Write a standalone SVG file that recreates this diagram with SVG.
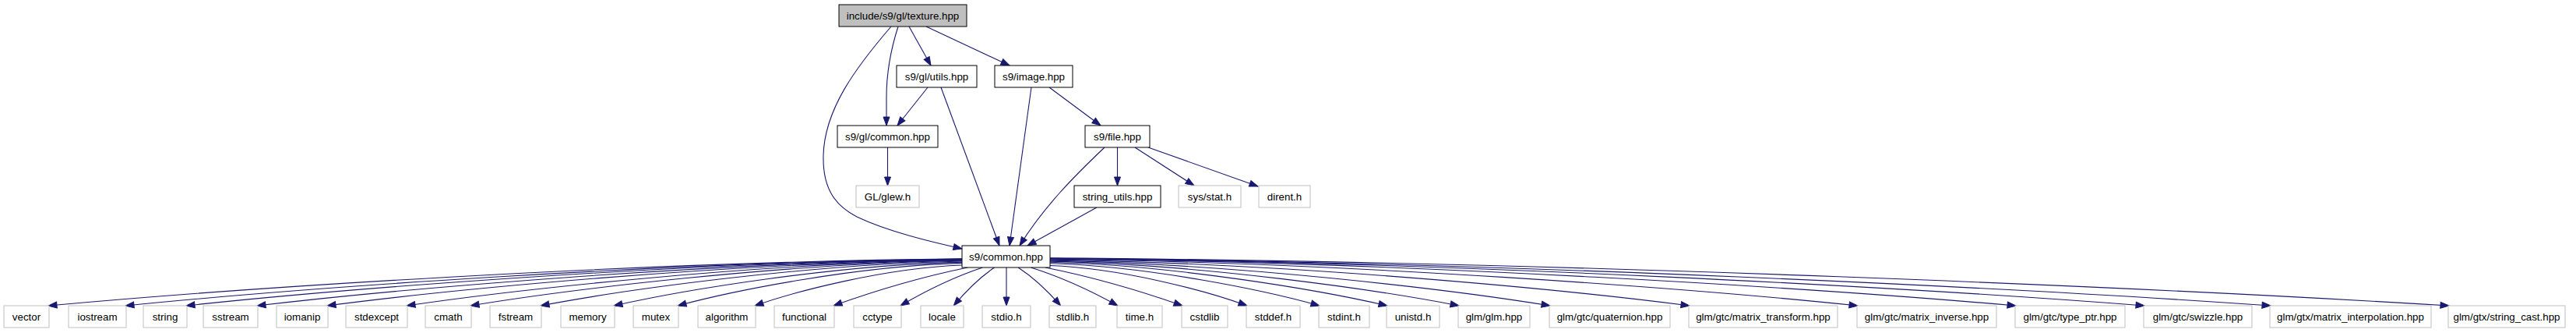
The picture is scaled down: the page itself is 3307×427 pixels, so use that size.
<svg xmlns="http://www.w3.org/2000/svg" width="3307" height="427" viewBox="0 0 3307 427">
<style>
text{font-family:"Liberation Sans",Arial,Helvetica,sans-serif;font-size:13.33px;text-anchor:middle;fill:#000}
.doc rect{fill:#fff;stroke:#000;stroke-width:1}
.root rect{fill:#bfbfbf;stroke:#000;stroke-width:1}
.ext rect{fill:#fff;stroke:#bfbfbf;stroke-width:1}
#edges path{fill:none;stroke:#191970;stroke-width:1.1;marker-end:url(#arr)}
</style>
<defs>
<marker id="arr" markerUnits="userSpaceOnUse" markerWidth="13" markerHeight="10" refX="11" refY="4" orient="auto" overflow="visible">
<path d="M0,0L11,4L0,8z" fill="#191970" stroke="#191970" stroke-width="1"/>
</marker>
</defs>
<rect width="3307" height="427" fill="#fff"/>
<g id="edges">
<path d="M1144,34 C1100,85 1058,140 1057,200 C1056,245 1075,265 1100,278 C1140,297 1195,310 1235,319"/>
<path d="M1153,34 C1144,62 1138,95 1138,125 L1138,161"/>
<path d="M1167,34 L1195,84"/>
<path d="M1189,34 L1296,84"/>
<path d="M1191,112 L1152,161"/>
<path d="M1208,112 L1283,315"/>
<path d="M1324,112 L1296,315"/>
<path d="M1347,112 L1413,161"/>
<path d="M1139.5,189 L1139.5,238"/>
<path d="M1418,189 C1380,225 1340,265 1309,315"/>
<path d="M1434.5,189 L1434.5,238"/>
<path d="M1457,189 L1533,238"/>
<path d="M1474,189 L1615,239"/>
<path d="M1408,266 L1319,315"/>
<path d="M1235,331.9 C801,336.1 296.6,370.4 62,392"/>
<path d="M1235,332.1 C837.6,336.3 375.8,370.4 161,392"/>
<path d="M1235,332.4 C866.5,336.6 438.2,370.5 239,392"/>
<path d="M1235,332.7 C900.2,336.9 511,370.7 330,392"/>
<path d="M1235,333.1 C933.4,337.2 583,370.8 420,392"/>
<path d="M1235,333.6 C971.2,337.7 664.6,371 522,392"/>
<path d="M1235,334.2 C1001.5,338.2 730.2,371.2 604,392"/>
<path d="M1235,335 C1034.8,339 802.2,371.5 694,392"/>
<path d="M1235,336.1 C1069.6,340 877.4,371.9 788,392"/>
<path d="M1235,337.4 C1100,341.2 943,372.3 870,392"/>
<path d="M1235,340 C1136.6,343.6 1022.2,373.3 969,392"/>
<path d="M1242.3,343 C1182,355.3 1121.7,373.4 1070,392"/>
<path d="M1261.4,343 C1224.5,355.3 1187.6,373.4 1156,392"/>
<path d="M1276.6,343 C1258.3,355.3 1240,373.4 1224.3,392"/>
<path d="M1292,343 L1292,392"/>
<path d="M1307.1,343 C1326.2,355.3 1345.3,373.4 1361.6,392"/>
<path d="M1323.4,343 C1362.5,355.3 1401.5,373.4 1435,392"/>
<path d="M1341.8,343 C1403.5,355.3 1465.1,373.4 1518,392"/>
<path d="M1348,340.5 C1441.6,344.1 1550.4,373.5 1601,392"/>
<path d="M1348,337.8 C1476,341.6 1624.8,372.5 1694,392"/>
<path d="M1348,336.3 C1508.2,340.2 1694.4,372 1781,392"/>
<path d="M1348,335.1 C1542.3,339.1 1768,371.5 1873,392"/>
<path d="M1348,334.1 C1585.5,338.2 1861.6,371.2 1990,392"/>
<path d="M1348,333.1 C1651.8,337.2 2004.8,370.8 2169,392"/>
<path d="M1348,332.3 C1731.7,336.5 2177.6,370.5 2385,392"/>
<path d="M1348,331.7 C1806.8,335.9 2340,370.3 2588,392"/>
<path d="M1348,331.4 C1867.9,335.6 2472,370.2 2753,392"/>
<path d="M1348,331.2 C1927.8,335.5 2601.6,370.1 2915,392"/>
<path d="M1348,330.9 C2012.5,335.2 2784.8,370 3144,392"/>
</g>
<g id="n_texture" class="root"><rect x="1077" y="6" width="164" height="28"/><text x="1159" y="24.7">include/s9/gl/texture.hpp</text></g>
<g id="n_utils" class="doc"><rect x="1151" y="84" width="103" height="28"/><text x="1202.5" y="102.7">s9/gl/utils.hpp</text></g>
<g id="n_image" class="doc"><rect x="1277" y="84" width="100" height="28"/><text x="1327" y="102.7">s9/image.hpp</text></g>
<g id="n_glcommon" class="doc"><rect x="1075" y="161" width="129" height="28"/><text x="1139.5" y="179.7">s9/gl/common.hpp</text></g>
<g id="n_file" class="doc"><rect x="1393" y="161" width="83" height="28"/><text x="1434.5" y="179.7">s9/file.hpp</text></g>
<g id="n_glew" class="ext"><rect x="1099" y="238" width="81" height="28"/><text x="1139.5" y="256.7">GL/glew.h</text></g>
<g id="n_string_utils" class="doc"><rect x="1379" y="238" width="111" height="28"/><text x="1434.5" y="256.7">string_utils.hpp</text></g>
<g id="n_stat" class="ext"><rect x="1513" y="238" width="80" height="28"/><text x="1553" y="256.7">sys/stat.h</text></g>
<g id="n_dirent" class="ext"><rect x="1616" y="238" width="66" height="28"/><text x="1649" y="256.7">dirent.h</text></g>
<g id="n_common" class="doc"><rect x="1235" y="315" width="113" height="28"/><text x="1291.5" y="333.7">s9/common.hpp</text></g>
<g id="n_vector" class="ext"><rect x="5" y="392" width="58" height="28"/><text x="34" y="410.7">vector</text></g>
<g id="n_iostream" class="ext"><rect x="88" y="392" width="74" height="28"/><text x="125" y="410.7">iostream</text></g>
<g id="n_string" class="ext"><rect x="184" y="392" width="56" height="28"/><text x="212" y="410.7">string</text></g>
<g id="n_sstream" class="ext"><rect x="261" y="392" width="70" height="28"/><text x="296" y="410.7">sstream</text></g>
<g id="n_iomanip" class="ext"><rect x="355" y="392" width="66" height="28"/><text x="388" y="410.7">iomanip</text></g>
<g id="n_stdexcept" class="ext"><rect x="444" y="392" width="79" height="28"/><text x="483.5" y="410.7">stdexcept</text></g>
<g id="n_cmath" class="ext"><rect x="546" y="392" width="59" height="28"/><text x="575.5" y="410.7">cmath</text></g>
<g id="n_fstream" class="ext"><rect x="629" y="392" width="66" height="28"/><text x="662" y="410.7">fstream</text></g>
<g id="n_memory" class="ext"><rect x="720" y="392" width="69" height="28"/><text x="754.5" y="410.7">memory</text></g>
<g id="n_mutex" class="ext"><rect x="813" y="392" width="58" height="28"/><text x="842" y="410.7">mutex</text></g>
<g id="n_algorithm" class="ext"><rect x="896" y="392" width="74" height="28"/><text x="933" y="410.7">algorithm</text></g>
<g id="n_functional" class="ext"><rect x="994" y="392" width="77" height="28"/><text x="1032.5" y="410.7">functional</text></g>
<g id="n_cctype" class="ext"><rect x="1096" y="392" width="61" height="28"/><text x="1126.5" y="410.7">cctype</text></g>
<g id="n_locale" class="ext"><rect x="1182" y="392" width="55" height="28"/><text x="1209.5" y="410.7">locale</text></g>
<g id="n_stdio" class="ext"><rect x="1261" y="392" width="62" height="28"/><text x="1292" y="410.7">stdio.h</text></g>
<g id="n_stdlib" class="ext"><rect x="1347" y="392" width="60" height="28"/><text x="1377" y="410.7">stdlib.h</text></g>
<g id="n_time" class="ext"><rect x="1434" y="392" width="58" height="28"/><text x="1463" y="410.7">time.h</text></g>
<g id="n_cstdlib" class="ext"><rect x="1517" y="392" width="59" height="28"/><text x="1546.5" y="410.7">cstdlib</text></g>
<g id="n_stddef" class="ext"><rect x="1600" y="392" width="69" height="28"/><text x="1634.5" y="410.7">stddef.h</text></g>
<g id="n_stdint" class="ext"><rect x="1693" y="392" width="65" height="28"/><text x="1725.5" y="410.7">stdint.h</text></g>
<g id="n_unistd" class="ext"><rect x="1780" y="392" width="68" height="28"/><text x="1814" y="410.7">unistd.h</text></g>
<g id="n_glm" class="ext"><rect x="1872" y="392" width="92" height="28"/><text x="1918" y="410.7">glm/glm.hpp</text></g>
<g id="n_quaternion" class="ext"><rect x="1989" y="392" width="155" height="28"/><text x="2066.5" y="410.7">glm/gtc/quaternion.hpp</text></g>
<g id="n_matrix_transform" class="ext"><rect x="2168" y="392" width="191" height="28"/><text x="2263.5" y="410.7">glm/gtc/matrix_transform.hpp</text></g>
<g id="n_matrix_inverse" class="ext"><rect x="2384" y="392" width="179" height="28"/><text x="2473.5" y="410.7">glm/gtc/matrix_inverse.hpp</text></g>
<g id="n_type_ptr" class="ext"><rect x="2587" y="392" width="141" height="28"/><text x="2657.5" y="410.7">glm/gtc/type_ptr.hpp</text></g>
<g id="n_swizzle" class="ext"><rect x="2752" y="392" width="139" height="28"/><text x="2821.5" y="410.7">glm/gtc/swizzle.hpp</text></g>
<g id="n_matrix_interpolation" class="ext"><rect x="2914" y="392" width="207" height="28"/><text x="3017.5" y="410.7">glm/gtx/matrix_interpolation.hpp</text></g>
<g id="n_string_cast" class="ext"><rect x="3143" y="392" width="150" height="28"/><text x="3218" y="410.7">glm/gtx/string_cast.hpp</text></g>
</svg>
